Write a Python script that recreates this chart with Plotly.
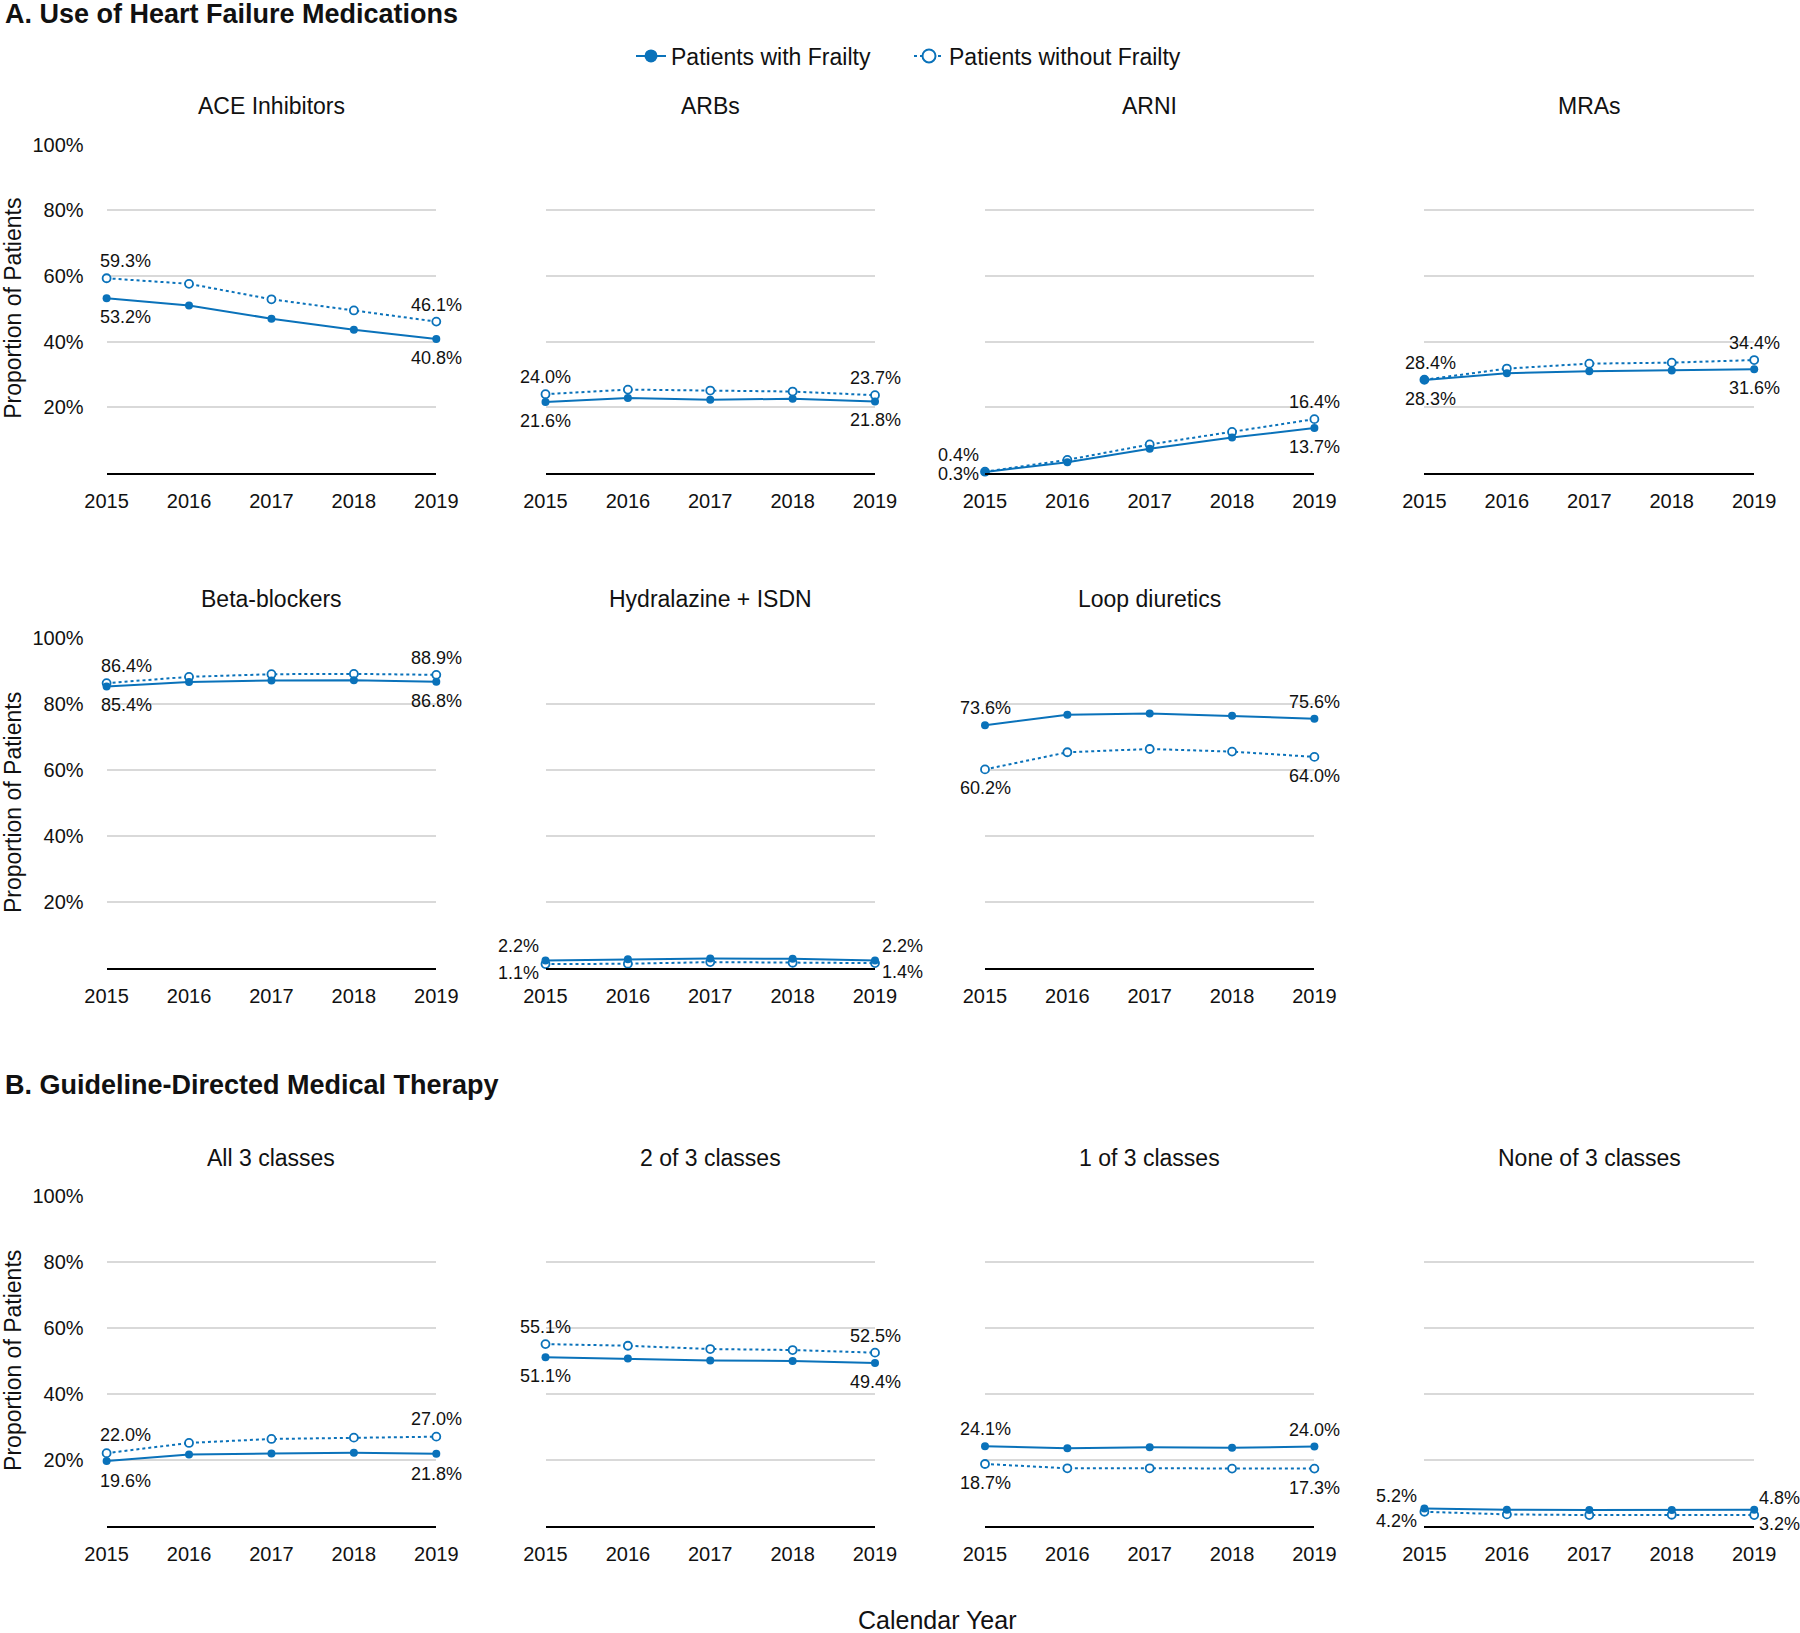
import plotly.graph_objects as go

# ---------------- data ----------------
years = [2015, 2016, 2017, 2018, 2019]

panel_titles = ["ACE Inhibitors", "ARBs", "ARNI", "MRAs",
                "Beta-blockers", "Hydralazine + ISDN", "Loop diuretics",
                "All 3 classes", "2 of 3 classes", "1 of 3 classes", "None of 3 classes"]

frail_ace = [53.2, 51.0, 47.0, 43.6, 40.8]
nonfrail_ace = [59.3, 57.6, 52.9, 49.5, 46.1]
frail_arb = [21.6, 22.8, 22.3, 22.6, 21.8]
nonfrail_arb = [24.0, 25.4, 25.1, 24.8, 23.7]
frail_arni = [0.3, 3.3, 7.4, 10.8, 13.7]
nonfrail_arni = [0.4, 4.0, 8.7, 12.5, 16.4]
frail_mra = [28.3, 30.4, 31.0, 31.2, 31.6]
nonfrail_mra = [28.4, 31.8, 33.3, 33.6, 34.4]
frail_bb = [85.4, 86.7, 87.2, 87.3, 86.8]
nonfrail_bb = [86.4, 88.3, 89.1, 89.2, 88.9]
frail_hisdn = [2.2, 2.6, 2.8, 2.7, 2.2]
nonfrail_hisdn = [1.1, 1.2, 1.7, 1.5, 1.4]
frail_loop = [73.6, 76.8, 77.2, 76.5, 75.6]
nonfrail_loop = [60.2, 65.4, 66.4, 65.6, 64.0]
frail_all3 = [19.6, 21.6, 21.9, 22.1, 21.8]
nonfrail_all3 = [22.0, 25.1, 26.3, 26.7, 27.0]
frail_two3 = [51.1, 50.7, 50.1, 50.0, 49.4]
nonfrail_two3 = [55.1, 54.6, 53.6, 53.3, 52.5]
frail_one3 = [24.1, 23.5, 23.8, 23.6, 24.0]
nonfrail_one3 = [18.7, 17.4, 17.4, 17.3, 17.3]
frail_none3 = [5.2, 4.8, 4.7, 4.7, 4.8]
nonfrail_none3 = [4.2, 3.4, 3.2, 3.3, 3.2]

frail_series = [frail_ace, frail_arb, frail_arni, frail_mra, frail_bb, frail_hisdn,
                frail_loop, frail_all3, frail_two3, frail_one3, frail_none3]
nonfrail_series = [nonfrail_ace, nonfrail_arb, nonfrail_arni, nonfrail_mra, nonfrail_bb,
                   nonfrail_hisdn, nonfrail_loop, nonfrail_all3, nonfrail_two3,
                   nonfrail_one3, nonfrail_none3]

y_ticks = [20, 40, 60, 80, 100]
y_tick_labels = ["20%", "40%", "60%", "80%", "100%"]

legend_names = ["Patients with Frailty", "Patients without Frailty"]
section_titles = ["A. Use of Heart Failure Medications", "B. Guideline-Directed Medical Therapy"]
y_title = "Proportion of Patients"
x_title = "Calendar Year"

# ---------------- layout geometry ----------------
W, H = 1800, 1633
BLUE = "#0a72ba"
FONT = "Liberation Sans, Arial, sans-serif"
TXT = "#111111"

X_DOM = [(106.6, 436.3), (545.5, 875.0), (985.0, 1314.4), (1424.4, 1754.2)]
ROW_Y = [(144.6, 473.0), (638.3, 967.7), (1196.2, 1525.6)]
positions = [(0, 0), (0, 1), (0, 2), (0, 3),
             (1, 0), (1, 1), (1, 2),
             (2, 0), (2, 1), (2, 2), (2, 3)]
title_y = [105.6, 599.0, 1158.3]

# label offsets per panel: (xshift 2015, xshift 2019, up shift, down shift)
label_cfg = {
    0: (19, 0, 17, -19), 4: (20, 0, 17, -19), 7: (19, 0, 18, -20),
    3: (6, 0, 17, -19),
    2: (-27, 0, 17, -19),
    5: (-27, 27, 14, -9),
    10: (-28, 25, 12, -9),
}

fig = go.Figure()
annotations = []

for i, (r, c) in enumerate(positions):
    n = "" if i == 0 else str(i + 1)
    xa, ya = "x" + n, "y" + n
    x0, x1 = X_DOM[c]
    y0, y1 = ROW_Y[r]
    fig.layout["xaxis" + n] = dict(
        domain=[x0 / W, x1 / W], range=[2015, 2019], tickvals=years,
        showgrid=False, zeroline=False, showline=True, linecolor="#000000", linewidth=2,
        ticks="outside", ticklen=9, tickcolor="rgba(0,0,0,0)", automargin=False,
        tickfont=dict(family=FONT, size=20, color=TXT), anchor=ya, fixedrange=True)
    fig.layout["yaxis" + n] = dict(
        domain=[1 - y1 / H, 1 - y0 / H], range=[0, 100], tickvals=y_ticks,
        ticktext=y_tick_labels, showticklabels=(c == 0), showgrid=True,
        gridcolor="#d9d9d9", gridwidth=1.5, zeroline=False, showline=False,
        ticks="outside", ticklen=18, tickcolor="rgba(0,0,0,0)", automargin=False,
        tickfont=dict(family=FONT, size=20, color=TXT), anchor=xa, fixedrange=True)

    fr = frail_series[i]
    nf = nonfrail_series[i]
    fig.add_trace(go.Scatter(
        x=years, y=nf, xaxis=xa, yaxis=ya, mode="lines+markers", showlegend=False,
        line=dict(color=BLUE, width=2, dash="dot"), cliponaxis=False,
        marker=dict(symbol="circle", size=8, color="white", line=dict(color=BLUE, width=1.8))))
    fig.add_trace(go.Scatter(
        x=years, y=fr, xaxis=xa, yaxis=ya, mode="lines+markers", showlegend=False,
        line=dict(color=BLUE, width=2), cliponaxis=False,
        marker=dict(symbol="circle", size=8, color=BLUE)))

    annotations.append(dict(
        text=panel_titles[i], xref="paper", yref="paper",
        x=(x0 + x1) / 2 / W, y=1 - title_y[r] / H, xanchor="center", yanchor="middle",
        showarrow=False, font=dict(family=FONT, size=23, color=TXT)))

    xs15, xs19, up, down = label_cfg.get(i, (0, 0, 17, -19))
    for e, xs in ((0, xs15), (4, xs19)):
        hi_is_nf = nf[e] >= fr[e]
        for val, is_nf in ((nf[e], True), (fr[e], False)):
            is_up = (is_nf == hi_is_nf)
            ys = up if is_up else down
            if i == 2 and e == 0 and not is_up:
                ys = -2
            annotations.append(dict(
                text=f"{val:.1f}%", xref=xa, yref=ya, x=years[e], y=val,
                xshift=xs, yshift=ys, xanchor="center", yanchor="middle",
                showarrow=False, font=dict(family=FONT, size=18, color=TXT)))

# legend-only traces
fig.add_trace(go.Scatter(
    x=[None], y=[None], mode="lines+markers", name=legend_names[0],
    line=dict(color=BLUE, width=2), marker=dict(size=13, color=BLUE)))
fig.add_trace(go.Scatter(
    x=[None], y=[None], mode="lines+markers", name=legend_names[1],
    line=dict(color=BLUE, width=2, dash="dot"),
    marker=dict(size=13, color="white", line=dict(color=BLUE, width=2))))

annotations.append(dict(text="<b>" + section_titles[0] + "</b>", xref="paper", yref="paper",
                        x=3 / W, y=1 - 14 / H, xanchor="left", yanchor="middle",
                        showarrow=False, font=dict(family=FONT, size=27, color=TXT)))
annotations.append(dict(text="<b>" + section_titles[1] + "</b>", xref="paper", yref="paper",
                        x=3 / W, y=1 - 1085 / H, xanchor="left", yanchor="middle",
                        showarrow=False, font=dict(family=FONT, size=27, color=TXT)))
for r in range(3):
    yc = (ROW_Y[r][0] + ROW_Y[r][1]) / 2
    annotations.append(dict(text=y_title, xref="paper", yref="paper", textangle=-90,
                            x=13 / W, y=1 - yc / H, xanchor="center", yanchor="middle",
                            showarrow=False, font=dict(family=FONT, size=23, color=TXT)))
annotations.append(dict(text=x_title, xref="paper", yref="paper",
                        x=937 / W, y=1 - 1620 / H, xanchor="center", yanchor="middle",
                        showarrow=False, font=dict(family=FONT, size=25, color=TXT)))

fig.update_layout(
    template="none",
    width=W, height=H, margin=dict(l=0, r=0, t=0, b=0, autoexpand=False),
    paper_bgcolor="white", plot_bgcolor="white",
    annotations=annotations,
    legend=dict(orientation="h", x=631 / W, y=1 - 56 / H, xanchor="left", yanchor="middle",
                font=dict(family=FONT, size=23, color=TXT), itemwidth=30,
                entrywidth=233, entrywidthmode="pixels",
                bgcolor="rgba(0,0,0,0)"),
)

fig.write_html("out.html", config={"displayModeBar": False},
               post_script="document.body.style.margin='0';document.body.style.overflow='hidden';")
